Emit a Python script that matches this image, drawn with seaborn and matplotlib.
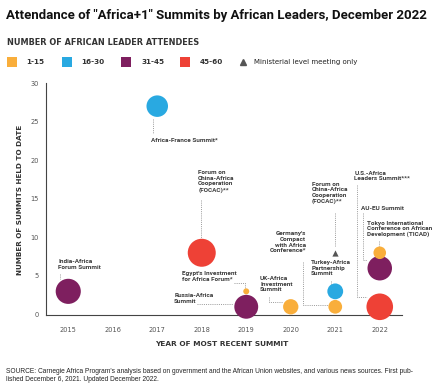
import matplotlib
matplotlib.use("Agg")
import matplotlib.pyplot as plt
import seaborn as sns
import pandas as pd
from matplotlib.patches import Rectangle
from matplotlib.lines import Line2D

# ---------------- data ----------------
years = [2015, 2017, 2018, 2019, 2019, 2020, 2021, 2021, 2022, 2022, 2022]
summits_held = [3, 27, 8, 3, 1, 1, 1, 3, 1, 6, 8]
attendees = [41, 30, 51, 2, 37, 15, 12, 16, 46, 39, 10]
groups = ["31-45", "16-30", "45-60", "1-15", "31-45", "1-15", "1-15", "16-30",
          "45-60", "31-45", "1-15"]
summit_names = [
    "India-Africa\nForum Summit",
    "Africa-France Summit*",
    "Forum on\nChina-Africa\nCooperation\n(FOCAC)**",
    "Egypt's Investment\nfor Africa Forum*",
    "Russia-Africa\nSummit",
    "UK-Africa\nInvestment\nSummit",
    "Germany's\nCompact\nwith Africa\nConference*",
    "Turkey-Africa\nPartnership\nSummit",
    "U.S.-Africa\nLeaders Summit***",
    "AU-EU Summit",
    "Tokyo International\nConference on African\nDevelopment (TICAD)",
]
ministerial_year = [2021]
ministerial_held = [8]
ministerial_name = ["Forum on\nChina-Africa\nCooperation\n(FOCAC)**"]

group_labels = ["1-15", "16-30", "31-45", "45-60"]
year_ticks = [2015, 2016, 2017, 2018, 2019, 2020, 2021, 2022]
y_ticks = [0, 5, 10, 15, 20, 25, 30]

title = 'Attendance of "Africa+1" Summits by African Leaders, December 2022'
legend_title = "NUMBER OF AFRICAN LEADER ATTENDEES"
ministerial_label = "Ministerial level meeting only"
x_label = "YEAR OF MOST RECENT SUMMIT"
y_label = "NUMBER OF SUMMITS HELD TO DATE"
source = ("SOURCE: Carnegie Africa Program's analysis based on government and the African Union websites, and various news sources. First pub-\n"
          "lished December 6, 2021. Updated December 2022.")

# ---------------- style ----------------
palette = {"1-15": "#F9AE3B", "16-30": "#29A9E1", "31-45": "#7E1F5F", "45-60": "#EE4136"}
sns.set_style("white")
plt.rcParams["font.family"] = ["DejaVu Sans"]

W, H = 433, 388
fig = plt.figure(figsize=(W / 100, H / 100), dpi=100)
ax = fig.add_axes([46 / W, 1 - 314.5 / H, (402 - 46) / W, (314.5 - 83) / H])

df = pd.DataFrame({"year": years, "held": summits_held, "attendees": attendees,
                   "group": groups, "name": summit_names})

sns.scatterplot(data=df, x="year", y="held", hue="group", palette=palette,
                size="attendees", sizes=(2.9, 477.5), size_norm=(0, 60),
                linewidth=0, alpha=1, legend=False, ax=ax, clip_on=False, zorder=4)
ax.scatter(ministerial_year, ministerial_held, marker="^", s=20, color="#555555",
           linewidth=0, zorder=4, clip_on=False)

ax.set_xlim(2014.5, 2022.5)
ax.set_ylim(0, 30)
for s in ["top", "right"]:
    ax.spines[s].set_visible(False)
for s in ["left", "bottom"]:
    ax.spines[s].set_color("#444444")
    ax.spines[s].set_linewidth(0.8)

ax.set_xticks(year_ticks)
ax.set_xticklabels([str(y) for y in year_ticks])
ax.set_xticks([y + 0.5 for y in year_ticks], minor=True)
ax.tick_params(axis="x", which="major", length=0, pad=9, labelsize=4.8, labelcolor="#555555")
ax.tick_params(axis="x", which="minor", direction="in", length=4.3, width=0.8, color="#444444")
ax.set_yticks(y_ticks)
ax.tick_params(axis="y", which="major", direction="in", length=6.5, width=0.8, color="#444444",
               pad=5, labelsize=4.8, labelcolor="#555555")
ax.set_xlabel("")
ax.set_ylabel("")

# ---------------- annotations ----------------
ann_font = dict(family=["Roboto", "DejaVu Sans"], fontweight="bold", fontsize=4.6,
                color="#3a3a3a", linespacing=1.15)
line_kw = dict(color="#9a9a9a", lw=0.7, ls=(0, (1, 1.2)), clip_on=False, zorder=1)

# (text x, text y, ha, va, leader line path)
layout = [
    (2014.77, 7.2, "left", "top", [(2014.82, 5.2), (2014.82, 4.65)]),
    (2016.85, 22.57, "left", "center", [(2016.90, 25.3), (2016.90, 23.4)]),
    (2017.92, 18.7, "left", "top", [(2017.98, 14.8), (2017.98, 9.8)]),
    (2017.545, 5.64, "left", "top", [(2018.72, 4.12), (2018.97, 4.12), (2018.97, 3.4)]),
    (2017.38, 2.79, "left", "top", [(2017.89, 1.36), (2018.70, 1.36)]),
    (2019.31, 4.99, "left", "top", [(2019.52, 2.27), (2019.52, 1.62), (2019.81, 1.62)]),
    (2020.34, 10.76, "right", "top", [(2020.27, 6.8), (2020.27, 1.19), (2020.84, 1.19)]),
    (2020.46, 7.06, "left", "top", [(2020.90, 4.28), (2020.90, 3.76)]),
    (2021.43, 18.66, "left", "top", [(2021.49, 16.8), (2021.49, 2.27), (2021.71, 2.27)]),
    (2021.58, 13.8, "left", "center", [(2021.62, 13.1), (2021.62, 7.0), (2021.71, 7.0)]),
    (2021.71, 12.18, "left", "top", [(2021.98, 9.5), (2021.98, 8.9)]),
]
for name, (tx, ty, ha, va, path) in zip(summit_names, layout):
    ax.text(tx, ty, name, ha=ha, va=va, clip_on=False, **ann_font)
    ax.plot([p[0] for p in path], [p[1] for p in path], **line_kw)

for name in ministerial_name:
    ax.text(2020.48, 17.23, name, ha="left", va="top", clip_on=False, **ann_font)
    ax.plot([2021.0, 2021.0], [13.15, 8.9], **line_kw)

# ---------------- titles and legend ----------------
fig.text(6 / W, 1 - 16 / H, title, ha="left", va="center", fontsize=9.5, fontweight="bold",
         family=["Liberation Sans Narrow", "Roboto", "DejaVu Sans"], color="#111111")
fig.text(7 / W, 1 - 42.7 / H, legend_title, ha="left", va="center", fontsize=5.9,
         fontweight="bold", color="#333333")

sq_x = [7.3, 61.7, 121, 180]
lab_x = [26.7, 81, 141, 200]
for g, sx, lx in zip(group_labels, sq_x, lab_x):
    fig.patches.append(Rectangle((sx / W, 1 - 67.3 / H), 10 / W, 10.6 / H,
                                 transform=fig.transFigure, color=palette[g], lw=0))
    fig.text(lx / W, 1 - 62 / H, g, ha="left", va="center", fontsize=5.2,
             fontweight="bold", color="#333333")
fig.lines.append(Line2D([243.3 / W], [1 - 62 / H], marker="^", markersize=4, color="#555555",
                        lw=0, transform=fig.transFigure))
fig.text(254.3 / W, 1 - 62 / H, ministerial_label, ha="left", va="center", fontsize=5.0,
         fontweight="normal", color="#222222")

fig.text(222 / W, 1 - 344 / H, x_label, ha="center", va="center", fontsize=5.35,
         fontweight="bold", color="#333333")
fig.text(20.5 / W, 1 - 200 / H, y_label, ha="center", va="center", rotation=90,
         fontsize=5.2, fontweight="bold", color="#333333")

fig.text(6 / W, 1 - 375.5 / H, source, ha="left", va="center", fontsize=4.8,
         family=["Liberation Sans", "DejaVu Sans"], color="#222222", linespacing=1.25)

fig.savefig("out.png", dpi=100)
